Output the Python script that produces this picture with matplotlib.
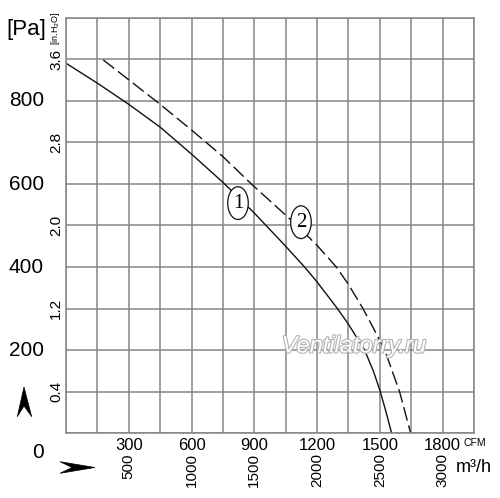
import numpy as np
import matplotlib.pyplot as plt
import matplotlib.patheffects as pe
from matplotlib.patches import Polygon
from matplotlib.transforms import blended_transform_factory

# curve 1 (solid) and curve 2 (dashed), flow in CFM, pressure in Pa
cfm_1 = [0, 150, 300, 450, 600, 750, 900, 1050, 1140, 1200, 1297, 1350, 1427, 1470, 1502, 1530, 1556]
pa_1 = [891, 843, 792, 737, 672, 604, 530, 450, 400, 364, 300, 262, 200, 148, 100, 50, 0]
cfm_2 = [178, 300, 450, 600, 750, 886, 1050, 1124, 1200, 1292, 1350, 1419, 1470, 1523, 1594, 1647]
pa_2 = [899, 851, 792, 730, 666, 600, 525, 490, 452, 400, 358, 300, 252, 200, 100, 0]

pa_ticks = [200, 400, 600, 800]
inh2o_pos = [100, 300, 500, 700, 900]
inh2o_labels = ['0.4', '1.2', '2.0', '2.8', '3.6']
cfm_ticks = [300, 600, 900, 1200, 1500, 1800]
m3h_labels = ['500', '1000', '1500', '2000', '2500', '3000']

W, H = 500, 498
sans = 'Liberation Sans'
grid_c = '#858585'
ink = '#111111'


def fx(x):
    return x / W


def fy(y):
    return 1 - y / H


fig = plt.figure(figsize=(5, 4.98), dpi=100)
ax = fig.add_axes([fx(66), fy(433), (474 - 66) / W, (433 - 18) / H])
ax.set_xlim(0, 1950)
ax.set_ylim(0, 1000)
ax.set_xticks(np.arange(0, 1951, 150))
ax.set_yticks(np.arange(0, 1001, 100))
ax.tick_params(length=0, labelbottom=False, labelleft=False)
ax.grid(True, color=grid_c, lw=1.1)
for s in ax.spines.values():
    s.set_color(grid_c)
    s.set_linewidth(1.1)

ax.plot(cfm_1, pa_1, color=ink, lw=1.0)
ax.plot(cfm_2, pa_2, color=ink, lw=1.0, linestyle=(0, (10, 3.5)))

# curve numbers
for s, xx, yy in [('1', 822, 554), ('2', 1123, 508)]:
    ax.text(xx, yy, s, family='Liberation Serif', fontsize=15, ha='center', va='center',
            bbox=dict(boxstyle='ellipse,pad=0.1', fc='white', ec=ink, lw=0.9), zorder=5)

# left scale labels
yt = blended_transform_factory(fig.transFigure, ax.transData)
for v in pa_ticks:
    fig.text(fx(44), v, str(v), transform=yt, family=sans, fontsize=15, ha='right', va='center')
fig.text(fx(44), fy(452), '0', family=sans, fontsize=15, ha='right', va='center')
for v, lab in zip(inh2o_pos, inh2o_labels):
    fig.text(fx(56), v, lab, transform=yt, family=sans, fontsize=11, ha='center', va='center',
             rotation=90)
fig.text(fx(26), fy(30), '[Pa]', family=sans, fontsize=16, ha='center', va='center')
fig.text(fx(56), fy(28), '[in.H$_2$O]', family=sans, fontsize=6.5, ha='center', va='center',
         rotation=90)

# bottom scale labels
xt = blended_transform_factory(ax.transData, fig.transFigure)
for v, lab in zip(cfm_ticks, m3h_labels):
    fig.text(v, fy(445), str(v), transform=xt, family=sans, fontsize=12, ha='center', va='center')
    fig.text(v, fy(453), lab, transform=xt, family=sans, fontsize=11, ha='center', va='top',
             rotation=90)
fig.text(fx(463), fy(443), 'CFM', family=sans, fontsize=7.5, ha='left', va='center')
fig.text(fx(456), fy(467), 'm³/h', family=sans, fontsize=13, ha='left', va='center')

# direction arrows
up = [(24, 387), (31.7, 416.7), (24, 406), (17.3, 416.7)]
right = [(60, 461.7), (95, 467.5), (60, 473.3), (72, 467.5)]
for pts in (up, right):
    fig.patches.append(Polygon([(fx(a), fy(b)) for a, b in pts], closed=True,
                               transform=fig.transFigure, fc='black', ec='black', lw=0.5))

# watermark
fig.text(fx(354), fy(346), 'Ventilatorry.ru', family=sans, style='italic',
         fontsize=17, color='white', ha='center', va='center',
         path_effects=[pe.Stroke(linewidth=1.6, foreground='#b4b4b4'), pe.Normal()])

fig.savefig('out.png', dpi=100)
